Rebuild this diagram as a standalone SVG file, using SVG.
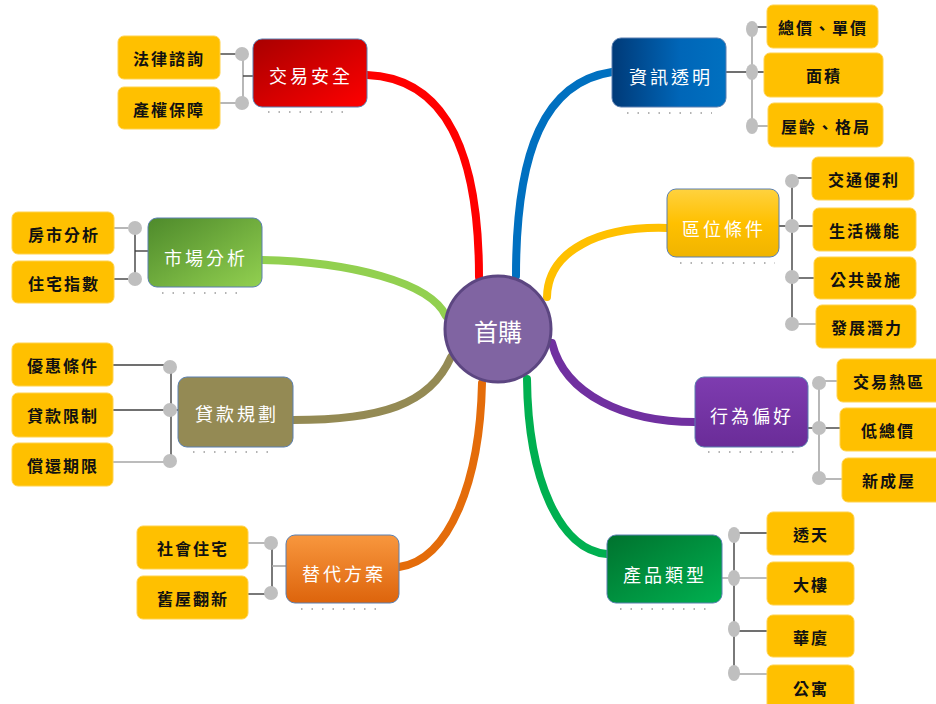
<svg xmlns="http://www.w3.org/2000/svg" width="936" height="704" viewBox="0 0 936 704">
<style>
.main{stroke-width:8;fill:none;stroke-linecap:round}
.vl{stroke:#A6A6A6;stroke-width:1.6;fill:none}
.hl{stroke:#404040;stroke-width:1.4;fill:none}
.dot{fill:#BFBFBF}
.leaf rect{fill:#FFC000;stroke:#FFD24D;stroke-width:1}
.leaf text{font-family:"Noto Sans CJK TC","Noto Sans CJK SC",sans-serif;font-size:16px;font-weight:700;fill:#111;text-anchor:middle;dominant-baseline:central;letter-spacing:2px}
.topic text{font-family:"Noto Sans CJK TC","Noto Sans CJK SC",sans-serif;font-size:18px;fill:#fff;text-anchor:middle;dominant-baseline:central;letter-spacing:3px}
.topic rect{stroke:#5A7FB0;stroke-width:1}
.dl{stroke:#9A9A9A;stroke-width:1.5;stroke-dasharray:1.5 9;fill:none}
</style>
<defs>
<linearGradient id="gRed" x1="0" y1="0" x2="1" y2="1"><stop offset="0" stop-color="#A80000"/><stop offset="1" stop-color="#FF0000"/></linearGradient>
<linearGradient id="gBlue" x1="0" y1="0" x2="1" y2="0"><stop offset="0" stop-color="#003A78"/><stop offset="0.6" stop-color="#0066B8"/><stop offset="1" stop-color="#0070C0"/></linearGradient>
<linearGradient id="gLg" x1="0" y1="0" x2="1" y2="1"><stop offset="0" stop-color="#4E8A2B"/><stop offset="1" stop-color="#92D050"/></linearGradient>
<linearGradient id="gOr" x1="0" y1="0" x2="0" y2="1"><stop offset="0" stop-color="#F8973E"/><stop offset="1" stop-color="#DD640C"/></linearGradient>
<linearGradient id="gGr" x1="0" y1="0" x2="1" y2="1"><stop offset="0" stop-color="#00722E"/><stop offset="1" stop-color="#00B050"/></linearGradient>
<linearGradient id="gYe" x1="0" y1="0" x2="0" y2="1"><stop offset="0" stop-color="#FFD23F"/><stop offset="0.5" stop-color="#FFC000"/><stop offset="1" stop-color="#F0B400"/></linearGradient>
<linearGradient id="gPu" x1="0" y1="0" x2="0" y2="1"><stop offset="0" stop-color="#7E3CB0"/><stop offset="1" stop-color="#6A2C98"/></linearGradient>
</defs>

<g id="connectors">
<path class="main" stroke="#FF0000" d="M367 75 C445 78 479 150 479 277"/>
<path class="main" stroke="#0070C0" d="M612 72 C545 82 516 150 516 276"/>
<path class="main" stroke="#FFC000" d="M667 228 C600 226 548 250 547 297"/>
<path class="main" stroke="#7030A0" d="M552 343 C565 395 625 422 695 422"/>
<path class="main" stroke="#00B050" d="M527 379 C528 480 560 550 607 554"/>
<path class="main" stroke="#E46C0A" d="M482 383 C480 480 450 560 399 567"/>
<path class="main" stroke="#948A54" d="M451 357 C430 405 380 420 293 420"/>
<path class="main" stroke="#92D050" d="M262 260 C350 262 430 282 446 316"/>

<!-- 交易安全 -->
<path class="vl" d="M243 54 V103"/>
<path class="hl" d="M243 76 H253"/>
<path class="hl" d="M220 54 H236"/>
<path class="vl" d="M220 103 H236"/>
<circle class="dot" cx="242" cy="54" r="7"/>
<circle class="dot" cx="242" cy="103" r="7"/>
<!-- 資訊透明 -->
<path class="vl" d="M752 29 V126"/>
<path class="hl" d="M726 72 H764"/>
<path class="hl" d="M752 27 H767"/>
<path class="vl" d="M752 126 H768"/>
<ellipse class="dot" cx="752" cy="29" rx="6" ry="8"/>
<ellipse class="dot" cx="752" cy="72" rx="6" ry="8"/>
<ellipse class="dot" cx="752" cy="126" rx="6" ry="8"/>
<!-- 市場分析 -->
<path class="hl" d="M135 228 V279"/>
<path class="hl" d="M135 251 H148"/>
<path class="vl" d="M114 228 H128"/>
<path class="hl" d="M114 279 H128"/>
<circle class="dot" cx="135" cy="228" r="7"/>
<circle class="dot" cx="135" cy="279" r="7"/>
<!-- 貸款規劃 -->
<path class="hl" d="M171 367 V461"/>
<path class="hl" d="M171 410 H178"/>
<path class="hl" d="M113 365 H164"/>
<path class="hl" d="M113 410 H164"/>
<path class="vl" d="M113 462 H164"/>
<circle class="dot" cx="170" cy="367" r="7"/>
<circle class="dot" cx="170" cy="410" r="7"/>
<circle class="dot" cx="170" cy="461" r="7"/>
<!-- 替代方案 -->
<path class="hl" d="M272 543 V593"/>
<path class="vl" d="M272 566 H286"/>
<path class="vl" d="M248 543 H265"/>
<path class="hl" d="M248 594 H265"/>
<circle class="dot" cx="271" cy="543" r="7"/>
<circle class="dot" cx="271" cy="593" r="7"/>
<!-- 產品類型 -->
<path class="hl" d="M734 535 V680"/>
<path class="vl" d="M722 578 H767"/>
<path class="hl" d="M734 533 H767"/>
<path class="hl" d="M734 631 H767"/>
<path class="vl" d="M734 674 H767"/>
<ellipse class="dot" cx="734" cy="535" rx="6" ry="8"/>
<ellipse class="dot" cx="734" cy="578" rx="6" ry="8"/>
<ellipse class="dot" cx="734" cy="629" rx="6" ry="8"/>
<ellipse class="dot" cx="734" cy="673" rx="6" ry="8"/>
<!-- 區位條件 -->
<path class="hl" d="M792 181 V324"/>
<path class="hl" d="M779 226 H813"/>
<path class="hl" d="M792 178 H812"/>
<path class="hl" d="M792 278 H814"/>
<path class="vl" d="M792 324 H816"/>
<circle class="dot" cx="792" cy="181" r="7"/>
<circle class="dot" cx="792" cy="226" r="7"/>
<circle class="dot" cx="792" cy="277" r="7"/>
<circle class="dot" cx="792" cy="324" r="7"/>
<!-- 行為偏好 -->
<path class="vl" d="M819 383 V478"/>
<path class="hl" d="M808 428 H840"/>
<path class="vl" d="M819 381 H837"/>
<path class="vl" d="M819 479 H842"/>
<circle class="dot" cx="819" cy="383" r="7"/>
<circle class="dot" cx="819" cy="428" r="7"/>
<circle class="dot" cx="819" cy="478" r="7"/>
</g>

<g id="center">
<circle cx="498" cy="329" r="53" fill="#8064A2" stroke="#5C4681" stroke-width="3"/>
<text x="498" y="330" font-family="'Noto Sans CJK TC','Noto Sans CJK SC',sans-serif" font-size="24" fill="#fff" text-anchor="middle" dominant-baseline="central">首購</text>
</g>

<g id="t-safety" class="topic">
<rect x="253" y="39" width="114" height="68" rx="9" fill="url(#gRed)"/>
<path class="dl" d="M268 112 H352"/>
<text x="311" y="75">交易安全</text>
</g>
<g id="t-info" class="topic">
<rect x="612" y="38" width="114" height="69" rx="9" fill="url(#gBlue)"/>
<path class="dl" d="M627 113 H712"/>
<text x="671" y="76">資訊透明</text>
</g>
<g id="t-market" class="topic">
<rect x="148" y="218" width="114" height="69" rx="9" fill="url(#gLg)"/>
<path class="dl" d="M162 293 H246"/>
<text x="206" y="257">市場分析</text>
</g>
<g id="t-loan" class="topic">
<rect x="178" y="377" width="115" height="70" rx="9" fill="#948A54"/>
<path class="dl" d="M193 452 H277"/>
<text x="237" y="413">貸款規劃</text>
</g>
<g id="t-alt" class="topic">
<rect x="286" y="535" width="113" height="68" rx="9" fill="url(#gOr)" stroke="none"/>
<path class="dl" d="M301 609 H385"/>
<text x="344" y="573">替代方案</text>
</g>
<g id="t-product" class="topic">
<rect x="607" y="535" width="115" height="68" rx="9" fill="url(#gGr)" stroke="none"/>
<path class="dl" d="M620 609 H706"/>
<text x="665" y="574">產品類型</text>
</g>
<g id="t-location" class="topic">
<rect x="667" y="189" width="112" height="68" rx="9" fill="url(#gYe)" stroke="#E8B000"/>
<path class="dl" d="M680 263 H775"/>
<text x="724" y="228">區位條件</text>
</g>
<g id="t-behavior" class="topic">
<rect x="695" y="377" width="113" height="70" rx="9" fill="url(#gPu)" stroke="#8A4CC0"/>
<path class="dl" d="M708 452 H802"/>
<text x="752" y="415">行為偏好</text>
</g>

<g id="l-law" class="leaf"><rect x="118" y="36" width="102" height="43" rx="6"/><text x="169" y="58">法律諮詢</text></g>
<g id="l-title" class="leaf"><rect x="118" y="87" width="102" height="42" rx="6"/><text x="169" y="109">產權保障</text></g>

<g id="l-price" class="leaf"><rect x="767" y="5" width="111" height="43" rx="6"/><text x="823" y="27">總價、單價</text></g>
<g id="l-area" class="leaf"><rect x="764" y="53" width="119" height="44" rx="6"/><text x="824" y="75">面積</text></g>
<g id="l-age" class="leaf"><rect x="768" y="103" width="115" height="44" rx="6"/><text x="826" y="126">屋齡、格局</text></g>

<g id="l-mkt" class="leaf"><rect x="12" y="212" width="102" height="42" rx="6"/><text x="64" y="234">房市分析</text></g>
<g id="l-idx" class="leaf"><rect x="12" y="261" width="102" height="42" rx="6"/><text x="64" y="283">住宅指數</text></g>

<g id="l-pref" class="leaf"><rect x="12" y="343" width="101" height="43" rx="6"/><text x="63" y="365">優惠條件</text></g>
<g id="l-limit" class="leaf"><rect x="12" y="393" width="101" height="44" rx="6"/><text x="63" y="415">貸款限制</text></g>
<g id="l-repay" class="leaf"><rect x="12" y="443" width="101" height="43" rx="6"/><text x="63" y="465">償還期限</text></g>

<g id="l-social" class="leaf"><rect x="137" y="526" width="111" height="43" rx="6"/><text x="193" y="548">社會住宅</text></g>
<g id="l-renov" class="leaf"><rect x="137" y="576" width="111" height="43" rx="6"/><text x="193" y="598">舊屋翻新</text></g>

<g id="l-house" class="leaf"><rect x="767" y="512" width="87" height="43" rx="6"/><text x="811" y="534">透天</text></g>
<g id="l-tower" class="leaf"><rect x="767" y="562" width="87" height="43" rx="6"/><text x="811" y="584">大樓</text></g>
<g id="l-mansion" class="leaf"><rect x="767" y="615" width="87" height="42" rx="6"/><text x="811" y="637">華廈</text></g>
<g id="l-apt" class="leaf"><rect x="767" y="665" width="87" height="45" rx="6"/><text x="811" y="688">公寓</text></g>

<g id="l-traffic" class="leaf"><rect x="812" y="157" width="102" height="43" rx="6"/><text x="864" y="179">交通便利</text></g>
<g id="l-life" class="leaf"><rect x="813" y="208" width="103" height="43" rx="6"/><text x="865" y="230">生活機能</text></g>
<g id="l-public" class="leaf"><rect x="814" y="257" width="102" height="42" rx="6"/><text x="866" y="279">公共設施</text></g>
<g id="l-potential" class="leaf"><rect x="816" y="305" width="100" height="43" rx="6"/><text x="867" y="327">發展潛力</text></g>

<g id="l-hot" class="leaf"><rect x="837" y="359" width="105" height="43" rx="6"/><text x="889" y="381">交易熱區</text></g>
<g id="l-low" class="leaf"><rect x="840" y="408" width="102" height="43" rx="6"/><text x="888" y="430">低總價</text></g>
<g id="l-new" class="leaf"><rect x="842" y="458" width="100" height="44" rx="6"/><text x="889" y="480">新成屋</text></g>
</svg>
